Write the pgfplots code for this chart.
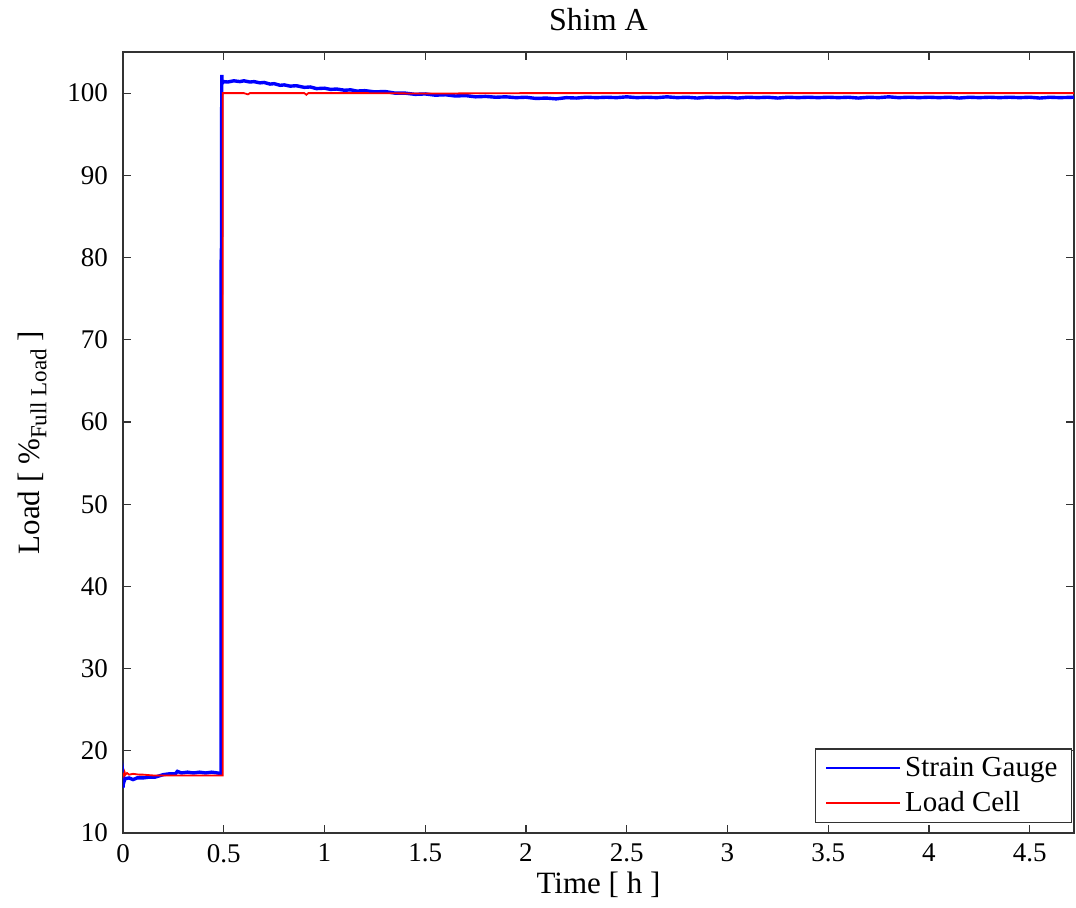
\documentclass[border=0pt]{standalone}
\usepackage{pgfplots}
\pgfplotsset{compat=1.18}
\usepackage{fontspec}
\setmainfont{Liberation Serif}
\begin{document}
\begin{tikzpicture}
\begin{axis}[
  at={(61.5pt,37pt)}, anchor=south west,
  width=475.5pt, height=390.5pt, scale only axis,
  xmin=0, xmax=4.72, ymin=10, ymax=105,
  xtick={0,0.5,1,1.5,2,2.5,3,3.5,4,4.5},
  xticklabels={0,0.5,1,1.5,2,2.5,3,3.5,4,4.5},
  ytick={10,20,30,40,50,60,70,80,90,100},
  tick align=inside, xtick pos=both, ytick pos=both,
  major tick length=4pt,
  tick style={black!80, line width=0.6pt},
  axis line style={black!80, line width=0.6pt},
  /pgf/number format/assume math mode=true,
  tick label style={font=\fontsize{13.5}{15}\selectfont},
  yticklabel style={xshift=-4pt},
  xticklabel style={yshift=-2pt},
  title={Shim A},
  title style={font=\fontsize{16}{18}\selectfont, at={(0.5,1)}, anchor=base, yshift=5pt},
  xlabel={Time [ h ]},
  xlabel style={font=\fontsize{15.5}{17}\selectfont, at={(0.5,0)}, anchor=base, yshift=-30pt},
  ylabel={Load [ \%\raisebox{-0.45ex}{\fontsize{11.5}{12}\selectfont Full Load} ]},
  ylabel style={font=\fontsize{15.5}{17}\selectfont, at={(0,0.5)}, anchor=base, yshift=41.5pt},
  legend cell align=left,
  legend image code/.code={\draw[#1] (0pt,0pt) -- (35pt,0pt); \path (0pt,0pt) -- (37pt,0pt);},
  legend image post style={line width=0.8pt},
  legend style={at={(1,0)}, anchor=south east, xshift=-1pt, yshift=5pt,
    draw=black!80, line width=0.6pt, font=\fontsize{14.5}{16}\selectfont,
    row sep=2pt, inner xsep=5pt, inner ysep=2pt},
]
\addplot[blue, line width=1.7pt] coordinates {
(0,15.5) (0.003,16.8) (0.006,16.3) (0.01,16.6) (0.03,16.7) (0.05,16.5) (0.07,16.7) (0.1,16.7)
(0.13,16.8) (0.16,16.8) (0.2,17.1) (0.23,17.2) (0.26,17.2) (0.27,17.5) (0.29,17.3) (0.32,17.4)
(0.35,17.3) (0.38,17.4) (0.41,17.3) (0.44,17.4) (0.47,17.3) (0.487,17.2)
(0.487,75.3) (0.4875,81.1) (0.488,75.5) (0.489,80) (0.49,101.2) (0.491,102.2) (0.492,101.2)
(0.5,101.4) (0.52,101.35) (0.55,101.5) (0.58,101.4) (0.6,101.5) (0.63,101.35) (0.65,101.4)
(0.68,101.25) (0.7,101.3) (0.73,101.1) (0.75,101.15) (0.78,100.95) (0.8,101.0) (0.83,100.85)
(0.86,100.9) (0.9,100.7) (0.93,100.75) (0.96,100.55) (1.0,100.6) (1.03,100.45) (1.06,100.5)
(1.1,100.35) (1.13,100.4) (1.16,100.25) (1.2,100.3) (1.25,100.15) (1.3,100.2) (1.35,100.0)
(1.4,100.0) (1.45,99.85) (1.5,99.9) (1.55,99.75) (1.6,99.8) (1.65,99.65) (1.7,99.7) (1.75,99.55)
(1.8,99.6) (1.85,99.5) (1.9,99.55) (1.95,99.45) (2.0,99.5) (2.05,99.35) (2.1,99.4) (2.15,99.3)
(2.2,99.45) (2.25,99.4) (2.3,99.5) (2.35,99.45) (2.4,99.5) (2.45,99.45) (2.5,99.55) (2.55,99.45)
(2.6,99.5) (2.65,99.45) (2.7,99.55) (2.75,99.45) (2.8,99.5) (2.85,99.4) (2.9,99.5) (2.95,99.45)
(3.0,99.5) (3.05,99.4) (3.1,99.5) (3.15,99.45) (3.2,99.5) (3.25,99.4) (3.3,99.5) (3.35,99.45)
(3.4,99.5) (3.45,99.45) (3.5,99.5) (3.55,99.45) (3.6,99.5) (3.65,99.4) (3.7,99.5) (3.75,99.45)
(3.8,99.55) (3.85,99.45) (3.9,99.5) (3.95,99.45) (4.0,99.5) (4.05,99.45) (4.1,99.5) (4.15,99.4)
(4.2,99.5) (4.25,99.45) (4.3,99.5) (4.35,99.45) (4.4,99.5) (4.45,99.45) (4.5,99.5) (4.55,99.4)
(4.6,99.5) (4.65,99.45) (4.72,99.5)
};
\addlegendentry{Strain Gauge}
\addplot[red, line width=0.9pt] coordinates {
(0,17.3) (0.004,17.0) (0.008,17.4) (0.012,17.1) (0.02,17.3) (0.03,17.1) (0.05,17.2) (0.08,17.1)
(0.1,17.1) (0.15,17.0) (0.2,17.0) (0.3,17.0) (0.4,17.0) (0.495,17.0)
(0.495,100.0) (0.6,100.0) (0.62,99.85) (0.63,100.0) (0.9,100.0) (0.91,99.8) (0.92,100.0)
(1.2,100.0) (1.5,99.95) (2.0,100.0) (2.5,100.0) (3.0,100.0) (3.5,100.0) (4.0,100.0) (4.72,100.0)
};
\addlegendentry{Load Cell}
\end{axis}
\pgfresetboundingbox
\path (0,0) rectangle (538pt,453.5pt);
\end{tikzpicture}
\end{document}
